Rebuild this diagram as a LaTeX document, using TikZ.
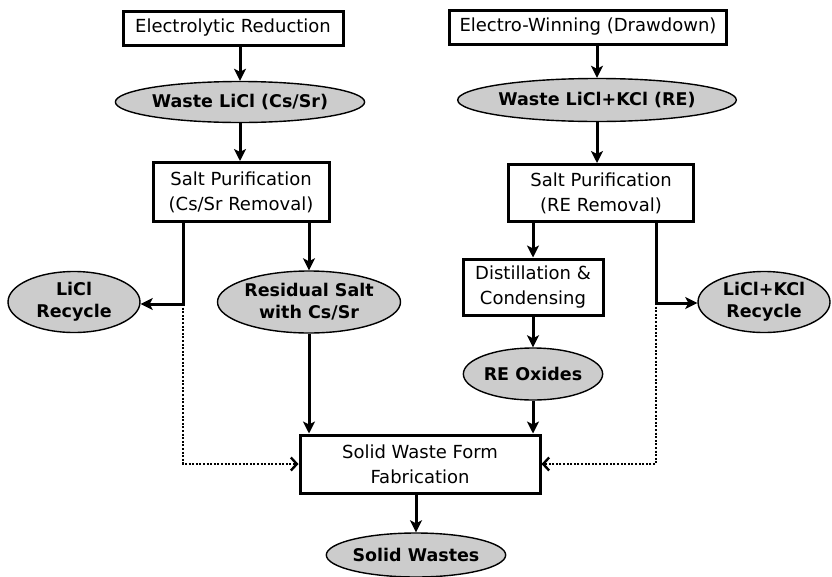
\documentclass[tikz,border=0pt]{standalone}
\usepackage{fontspec}
\setmainfont{DejaVu Sans}
\usetikzlibrary{shapes.geometric,arrows.meta}

\begin{document}
\begin{tikzpicture}[x=1pt,y=-1pt,
  proc/.style={draw,line width=3pt,align=center,font=\fontsize{18}{25}\selectfont,inner sep=0pt},
  prod/.style={ellipse,draw,line width=1.4pt,fill=gray!40,align=center,inner sep=0pt,font=\fontsize{17.5}{22}\selectfont\bfseries},
  flow/.style={line width=3pt,-{Stealth[length=12pt,width=12pt,inset=3pt]}},
  back/.style={line width=2.4pt,dash pattern=on 2pt off 1.6pt,-{Straight Barb[length=6pt,width=13pt,line width=2.4pt]}}]
  \useasboundingbox (0,0) rectangle (832,576);

  % Electrolytic reduction branch
  \node[proc,minimum width=220,minimum height=34] (er) at (233,28) {Electrolytic Reduction};
  \node[prod,minimum width=199,minimum height=41] (wl) at (240,102) {Waste LiCl (Cs/Sr)};
  \node[proc,minimum width=176,minimum height=59] (sp1) at (241,192) {Salt Purification\\(Cs/Sr Removal)};
  \node[prod,minimum width=132,minimum height=61] (licl) at (74,302) {LiCl\\Recycle};
  \node[prod,minimum width=140,minimum height=62] (res) at (309,302) {Residual Salt\\with Cs/Sr};

  % Electro-winning branch
  \node[proc,minimum width=277,minimum height=34] (ew) at (588,27) {Electro-Winning (Drawdown)};
  \node[prod,minimum width=205,minimum height=43] (wlk) at (597,100) {Waste LiCl+KCl (RE)};
  \node[proc,minimum width=185,minimum height=57] (sp2) at (601,193) {Salt Purification\\(RE Removal)};
  \node[proc,minimum width=140,minimum height=56] (dist) at (533,287) {Distillation \&\\Condensing};
  \node[prod,minimum width=139,minimum height=52] (reox) at (533,374) {RE Oxides};
  \node[prod,minimum width=132,minimum height=61] (lkr) at (764,302) {LiCl+KCl\\Recycle};

  % Waste form
  \node[proc,minimum width=240,minimum height=58] (sw) at (420,464) {Solid Waste Form\\Fabrication};
  \node[prod,minimum width=139,minimum height=44] (sws) at (416,555) {Solid Wastes};

  % Split points
  \coordinate (lsplit) at (183,304);
  \coordinate (rsplit) at (656,303);

  % Left flows
  \draw[flow] (er.south -| wl.north) -- (wl.north);
  \draw[flow] (wl.south) -- (wl.south |- sp1.north);
  \draw[flow] (sp1.south -| lsplit) -- (lsplit) -- (lsplit -| licl.east);
  \draw[flow] (sp1.south -| res.north) -- (res.north);
  \draw[flow] (res.south) -- (res.south |- sw.north);
  \draw[back] (lsplit) |- (sw.west);

  % Right flows
  \draw[flow] (ew.south -| wlk.north) -- (wlk.north);
  \draw[flow] (wlk.south) -- (wlk.south |- sp2.north);
  \draw[flow] (sp2.south -| dist.north) -- (dist.north);
  \draw[flow] (dist.south) -- (reox.north);
  \draw[flow] (reox.south) -- (reox.south |- sw.north);
  \draw[flow] (sp2.south -| rsplit) -- (rsplit) -- (rsplit -| lkr.west);
  \draw[back] (rsplit) |- (sw.east);

  % Final product
  \draw[flow] (sw.south -| sws.north) -- (sws.north);
\end{tikzpicture}
\end{document}
